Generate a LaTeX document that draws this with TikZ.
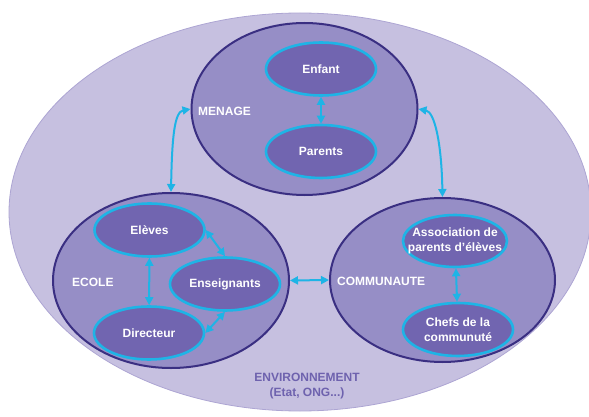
\documentclass[tikz,border=0pt]{standalone}
\usepackage{fontspec}
\setmainfont{Liberation Sans}
\usetikzlibrary{shapes.geometric,arrows.meta}
\definecolor{envfill}{HTML}{C6C0E0}
\definecolor{envline}{HTML}{ADA5D3}
\definecolor{groupfill}{HTML}{968EC6}
\definecolor{groupline}{HTML}{3A2F82}
\definecolor{memberfill}{HTML}{7165B0}
\definecolor{cyanline}{HTML}{1EB4E6}
\definecolor{envtext}{HTML}{6E62AE}
\begin{document}
\begin{tikzpicture}[x=1pt,y=-1pt,
  font=\bfseries\fontsize{12}{15}\selectfont,
  envshape/.style={ellipse, fill=envfill, draw=envline, line width=0.8pt, minimum width=582pt, minimum height=398pt, inner sep=0pt},
  group/.style={ellipse, fill=groupfill, draw=groupline, line width=2pt, inner sep=0pt},
  member/.style={ellipse, fill=memberfill, draw=cyanline, line width=2.6pt, inner sep=0pt, minimum width=110pt, minimum height=53pt},
  txt/.style={text=white, align=center, inner sep=0pt},
  lbl/.style={text=white, anchor=west, inner sep=0pt},
  arr/.style={draw=cyanline, line width=2pt, {Triangle[length=8pt,width=8pt]}-{Triangle[length=8pt,width=8pt]}}
]
\useasboundingbox (0,0) rectangle (589,417);
\clip (0,0) rectangle (589,417);
\node[envshape] (env) at (300,212) {};
\node[text=envtext, align=center, inner sep=0pt] (envlabel) at (307,386) {ENVIRONNEMENT\\(Etat, ONG...)};

% groups
\node[group, minimum width=226pt, minimum height=172pt] (menage) at (304.5,109) {};
\node[group, minimum width=236pt, minimum height=175pt] (ecole) at (171,280.5) {};
\node[group, minimum width=225pt, minimum height=164pt] (communaute) at (442.5,280) {};

\node[lbl] (menagelabel) at (198,111) {MENAGE};
\node[lbl] (ecolelabel) at (72,282) {ECOLE};
\node[lbl] (communautelabel) at (337,281) {COMMUNAUTE};

% members
\node[member] (enfant) at (321,69) {};
\node[txt] (enfanttxt) at (enfant) {Enfant};
\node[member] (parents) at (321,151.5) {};
\node[txt] (parentstxt) at (parents) {Parents};

\node[member] (eleves) at (149.5,230) {};
\node[txt] (elevestxt) at (eleves) {Elèves};
\node[member] (enseignants) at (225,284) {};
\node[txt] (enseignantstxt) at (enseignants) {Enseignants};
\node[member] (directeur) at (149,333) {};
\node[txt] (directeurtxt) at (directeur) {Directeur};

\node[member, minimum width=104pt, minimum height=52pt] (assoc) at (455,241) {};
\node[txt] (assoctxt) at (assoc) {Association de\\parents d’élèves};
\node[member] (chefs) at (458,329.5) {};
\node[txt] (chefstxt) at (chefs) {Chefs de la\\communuté};

% connectors
\draw[arr] (enfant) -- (parents);
\draw[arr] (eleves) -- (directeur);
\draw[arr] (eleves.east) -- (enseignants.north);
\draw[arr] (enseignants.south) -- (directeur.east);
\draw[arr] (assoc) -- (chefs);
\draw[arr] (ecole.east) -- (communaute.west);
\draw[arr] (menage.west) .. controls +(-16,3) and +(1,-55) .. (ecole.north);
\draw[arr] (menage.east) .. controls +(16,3) and +(-1,-55) .. (communaute.north);
\end{tikzpicture}
\end{document}
